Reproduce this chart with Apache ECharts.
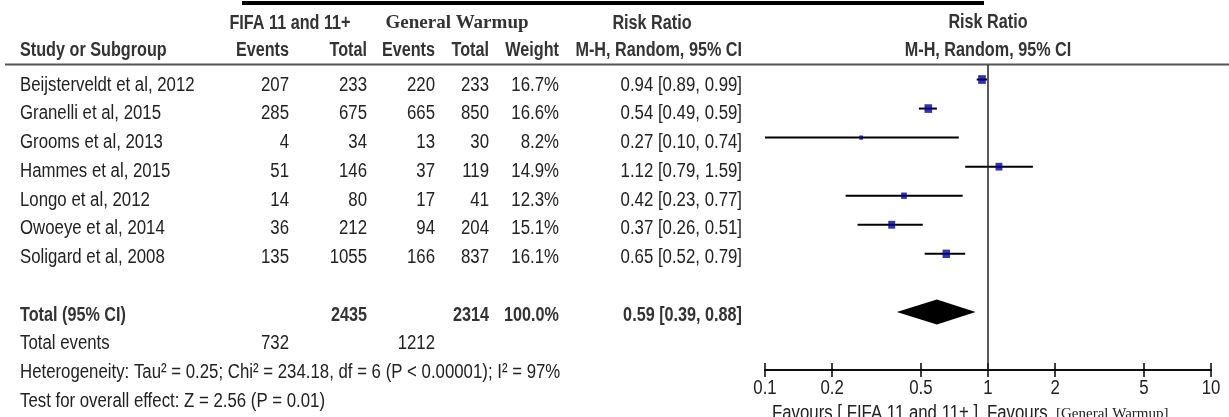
<!DOCTYPE html>
<html><head><meta charset="utf-8">
<script src="https://cdn.jsdelivr.net/npm/echarts@6/dist/echarts.min.js"></script>
<style>html,body{margin:0;padding:0;background:#fff}#c{width:1229px;height:417px}</style>
</head><body><div id="c"></div>
<script>
// ---------- data ----------
const studies = ['Beijsterveldt et al, 2012','Granelli et al, 2015','Grooms et al, 2013','Hammes et al, 2015','Longo et al, 2012','Owoeye et al, 2014','Soligard et al, 2008'];
const fifaEvents = [207, 285, 4, 51, 14, 36, 135];
const fifaTotal  = [233, 675, 34, 146, 80, 212, 1055];
const gwEvents   = [220, 665, 13, 37, 17, 94, 166];
const gwTotal    = [233, 850, 30, 119, 41, 204, 837];
const weights    = [16.7, 16.6, 8.2, 14.9, 12.3, 15.1, 16.1];
const riskRatio  = [0.94, 0.54, 0.27, 1.12, 0.42, 0.37, 0.65];
const ciLow      = [0.89, 0.49, 0.10, 0.79, 0.23, 0.26, 0.52];
const ciHigh     = [0.99, 0.59, 0.74, 1.59, 0.77, 0.51, 0.79];
const totalFifaN = 2435, totalGwN = 2314, totalWeight = 100.0;
const totalFifaEvents = 732, totalGwEvents = 1212;
const pooled = {rr: 0.59, lo: 0.39, hi: 0.88};
const heterogeneityText = 'Heterogeneity: Tau\u00B2 = 0.25; Chi\u00B2 = 234.18, df = 6 (P < 0.00001); I\u00B2 = 97%';
const overallText = 'Test for overall effect: Z = 2.56 (P = 0.01)';
const xTicks = [0.1, 0.2, 0.5, 1, 2, 5, 10];
const totalRow = 8;

// ---------- fonts (Arial-metric font, horizontally condensed) ----------
const SANS = '"Liberation Sans", Arial, sans-serif';
const SERIF = '"Liberation Serif", serif';
const TXT = '#222';
const HDR = '#333';
const fReg = '20px ' + SANS;
const fBold = 'bold 20px ' + SANS;
const SX_REG = 0.84, SX_BOLD = 0.81;

function textEl(x, y, text, bold, align, fill) {
  return {type: 'text', x: x, y: y, scaleX: bold ? SX_BOLD : SX_REG, scaleY: 1,
    style: {text: String(text), font: bold ? fBold : fReg, fill: fill || (bold ? HDR : TXT), align: align, verticalAlign: 'middle'}};
}

// ---------- table rows (built from arrays) ----------
const fmt2 = v => v.toFixed(2);
const tableRows = studies.map((s, i) => ({row: i, bold: false, cells: [s, fifaEvents[i], fifaTotal[i], gwEvents[i], gwTotal[i], weights[i].toFixed(1) + '%', fmt2(riskRatio[i]) + ' [' + fmt2(ciLow[i]) + ', ' + fmt2(ciHigh[i]) + ']']}));
tableRows.push({row: 8, bold: true, cells: ['Total (95% CI)', '', totalFifaN, '', totalGwN, totalWeight.toFixed(1) + '%', fmt2(pooled.rr) + ' [' + fmt2(pooled.lo) + ', ' + fmt2(pooled.hi) + ']']});
tableRows.push({row: 9, bold: false, cells: ['Total events', totalFifaEvents, '', totalGwEvents, '', '', '']});
tableRows.push({row: 10, bold: false, cells: [heterogeneityText, '', '', '', '', '', '']});
tableRows.push({row: 11, bold: false, cells: [overallText, '', '', '', '', '', '']});

// column layout (pixels)
const colX = [20, 289, 367, 435, 489, 559, 742];

const chart = echarts.init(document.getElementById('c'), null, {renderer: 'canvas'});

const headerTexts = [
  {t: 'FIFA 11 and 11+', x: 290, y: 23, a: 'center'},
  {t: 'Risk Ratio', x: 652, y: 23, a: 'center'},
  {t: 'Risk Ratio', x: 988, y: 22, a: 'center'},
  {t: 'Study or Subgroup', x: 20, y: 50, a: 'left'},
  {t: 'Events', x: 289, y: 50, a: 'right'},
  {t: 'Total', x: 367, y: 50, a: 'right'},
  {t: 'Events', x: 435, y: 50, a: 'right'},
  {t: 'Total', x: 489, y: 50, a: 'right'},
  {t: 'Weight', x: 559, y: 50, a: 'right'},
  {t: 'M-H, Random, 95% CI', x: 742, y: 50, a: 'right'},
  {t: 'M-H, Random, 95% CI', x: 988, y: 50, a: 'center'}
];
const graphics = headerTexts.map(h => textEl(h.x, h.y, h.t, true, h.a));
graphics.push({type: 'text', x: 457, y: 23, style: {text: 'General Warmup', font: 'bold 19px ' + SERIF, fill: HDR, align: 'center', verticalAlign: 'middle'}});
graphics.push({type: 'line', shape: {x1: 242, y1: 3, x2: 984, y2: 3}, style: {stroke: '#000', lineWidth: 4}});
graphics.push({type: 'line', shape: {x1: 5, y1: 64.5, x2: 1229, y2: 64.5}, style: {stroke: '#555', lineWidth: 2}});
graphics.push(textEl(772, 413, 'Favours [ FIFA 11 and 11+ ]', false, 'left'));
graphics.push(textEl(987, 413, 'Favours', false, 'left'));
graphics.push({type: 'text', x: 1056, y: 414, style: {text: '[General Warmup]', font: '15px ' + SERIF, fill: TXT, align: 'left', verticalAlign: 'middle'}});

const axisLine = {onZero: false, lineStyle: {color: '#000', width: 1.5}};
const forestGrid = {left: 765, right: 18, top: 65, bottom: 47};
chart.setOption({
  animation: false,
  grid: [
    {left: 0, right: 0, top: 0, bottom: 0},
    forestGrid,
    forestGrid
  ],
  xAxis: [
    {gridIndex: 0, type: 'value', min: 0, max: 1, show: false},
    {gridIndex: 1, type: 'log', logBase: 10, min: 0.1, max: 10, position: 'bottom', axisLine: axisLine, splitLine: {show: false},
     axisTick: {show: true, inside: true, length: 7, lineStyle: {color: '#000', width: 1.5}, customValues: xTicks},
     axisLabel: {show: false}},
    {gridIndex: 2, type: 'log', logBase: 10, min: 0.1, max: 10, position: 'bottom', axisLine: axisLine, splitLine: {show: false},
     axisTick: {show: true, inside: false, length: 7, lineStyle: {color: '#000', width: 1.5}, customValues: xTicks},
     axisLabel: {show: false}}
  ],
  yAxis: [
    {gridIndex: 0, type: 'value', inverse: true, min: -2.957, max: 11.548, show: false},
    {gridIndex: 1, type: 'value', inverse: true, min: -0.5, max: 10, show: false},
    {gridIndex: 2, type: 'value', inverse: true, min: -0.5, max: 10, show: false}
  ],
  graphic: graphics,
  series: [
    {
      type: 'custom', xAxisIndex: 0, yAxisIndex: 0, clip: false,
      data: tableRows.map(r => [0, r.row]),
      encode: {x: 0, y: 1},
      renderItem: (params, api) => {
        const r = tableRows[params.dataIndex];
        const y = api.coord([0, api.value(1)])[1];
        const children = [];
        r.cells.forEach((c, k) => {
          if (c === '' || c === undefined) return;
          children.push(textEl(colX[k], y, c, r.bold, k === 0 ? 'left' : 'right'));
        });
        return {type: 'group', children: children};
      }
    },
    {
      // tick labels of the log axis, placed through the axis scale
      type: 'custom', xAxisIndex: 1, yAxisIndex: 1, clip: false,
      data: xTicks.map(t => [t, 10]),
      encode: {x: 0, y: 1},
      renderItem: (params, api) => {
        const p = api.coord([api.value(0), api.value(1)]);
        return textEl(p[0], p[1] + 18, String(xTicks[params.dataIndex]), false, 'center');
      }
    },
    {
      type: 'custom', xAxisIndex: 1, yAxisIndex: 1, clip: false,
      data: studies.map((s, i) => [ciLow[i], ciHigh[i], i]),
      encode: {x: [0, 1], y: 2},
      renderItem: (params, api) => {
        const a = api.coord([api.value(0), api.value(2)]);
        const b = api.coord([api.value(1), api.value(2)]);
        return {type: 'line', shape: {x1: a[0], y1: a[1], x2: b[0], y2: b[1]}, style: {stroke: '#000', lineWidth: 2}};
      }
    },
    {
      type: 'scatter', xAxisIndex: 1, yAxisIndex: 1, symbol: 'rect', z: 5,
      data: studies.map((s, i) => [riskRatio[i], i, weights[i]]),
      symbolSize: v => [v[2] * 0.46, v[2] * 0.52],
      itemStyle: {color: '#000099'},
      markLine: {symbol: 'none', silent: true, label: {show: false}, lineStyle: {color: '#222', width: 1.5, type: 'solid'}, data: [{xAxis: 1}]}
    },
    {
      type: 'custom', xAxisIndex: 1, yAxisIndex: 1, clip: false,
      data: [[pooled.lo, pooled.rr, pooled.hi, totalRow]],
      encode: {x: [0, 1, 2], y: 3},
      renderItem: (params, api) => {
        const row = api.value(3);
        const l = api.coord([api.value(0), row]);
        const m = api.coord([api.value(1), row]);
        const h = api.coord([api.value(2), row]);
        const hh = 12.5;
        return {type: 'polygon', shape: {points: [[l[0], l[1]], [m[0], m[1] - hh], [h[0], h[1]], [m[0], m[1] + hh]]}, style: {fill: '#000'}};
      }
    }
  ]
});
</script></body></html>
